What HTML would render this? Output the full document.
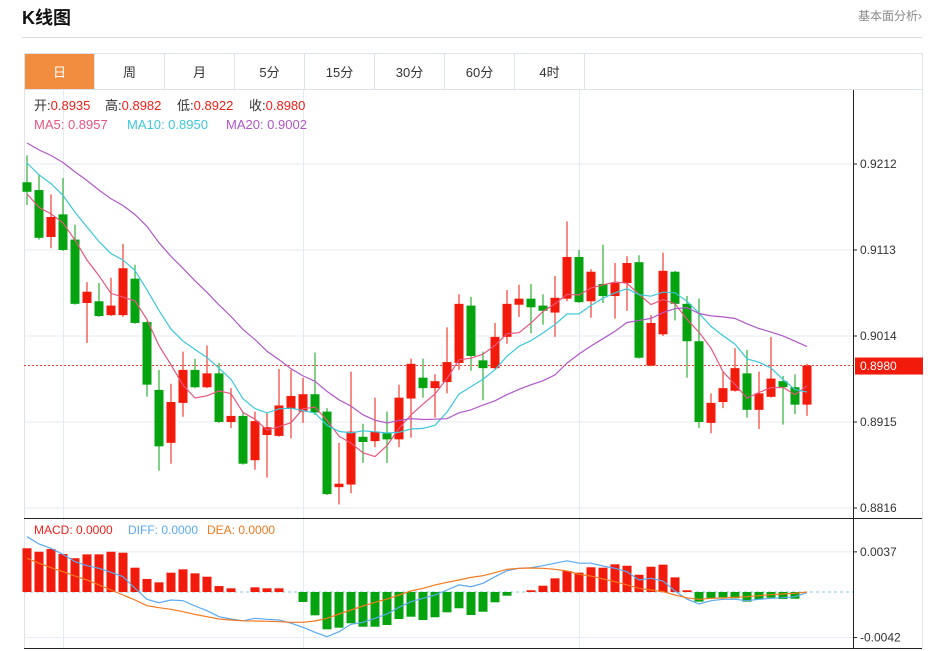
<!DOCTYPE html>
<html><head><meta charset="utf-8"><style>
body{margin:0;background:#fff;font-family:"Liberation Sans","Noto Sans CJK SC",sans-serif;}
#wrap{position:relative;width:937px;height:651px;overflow:hidden;}
svg text{font-family:"Liberation Sans","Noto Sans CJK SC",sans-serif;}
</style></head><body>
<div id="wrap">
<svg id="chart" width="937" height="651" xmlns="http://www.w3.org/2000/svg">
<text x="22" y="24" font-size="18" font-weight="bold" fill="#111">K线图</text>
<text x="922" y="20" font-size="12" fill="#888" text-anchor="end">基本面分析›</text>
<line x1="22" y1="37.5" x2="922" y2="37.5" stroke="#ddd"/>
<rect x="24.5" y="53.5" width="898" height="595" fill="none" stroke="#dde3ea"/>
<line x1="24" y1="89.5" x2="922" y2="89.5" stroke="#dde3ea"/>
<g id="tabs"></g>
<g id="grid"></g>
<g id="candles"></g>
<g id="mas"></g>
<g id="macd"></g>
<g id="axes"></g>
<g id="legend" font-size="13">
<text x="34" y="110"><tspan fill="#333">开:</tspan><tspan fill="#f0201a">0.8935</tspan></text>
<text x="105" y="110"><tspan fill="#333">高:</tspan><tspan fill="#f0201a">0.8982</tspan></text>
<text x="177" y="110"><tspan fill="#333">低:</tspan><tspan fill="#f0201a">0.8922</tspan></text>
<text x="249" y="110"><tspan fill="#333">收:</tspan><tspan fill="#f0201a">0.8980</tspan></text>
<text x="34" y="129" fill="#e8557f">MA5: 0.8957</text>
<text x="127" y="129" fill="#3cc8dc">MA10: 0.8950</text>
<text x="226" y="129" fill="#b158c8">MA20: 0.9002</text>
<text x="34" y="534" font-size="12" fill="#f0201a">MACD: 0.0000</text>
<text x="128" y="534" font-size="12" fill="#5aa9f0">DIFF: 0.0000</text>
<text x="207" y="534" font-size="12" fill="#f5781e">DEA: 0.0000</text>
</g>
</svg>
</div>
<script>
const tabLabels=["日","周","月","5分","15分","30分","60分","4时"];
const opens=[.9191,.9182,.9128,.9154,.9125,.9052,.9054,.9038,.9038,.9080,.9030,.8952,.8891,.8937,.8975,.8955,.8971,.8915,.8922,.8871,.8900,.8899,.8930,.8927,.8947,.8927,.8840,.8843,.8898,.8893,.8902,.8895,.8942,.8966,.8954,.8961,.8983,.9049,.8986,.8977,.9013,.9050,.9057,.9049,.9041,.9057,.9105,.9054,.9074,.9060,.9075,.9099,.8980,.9016,.9088,.9051,.9008,.8914,.8938,.8951,.8971,.8929,.8944,.8962,.8955,.8935];
const highs=[.9222,.9200,.9177,.9196,.9142,.9076,.9075,.9081,.9120,.9096,.9031,.8975,.8959,.8996,.8988,.9003,.8983,.8954,.8927,.8927,.8926,.8976,.8975,.8966,.8995,.8931,.8891,.8973,.8913,.8943,.8927,.8958,.8988,.8988,.8970,.9024,.9062,.9059,.8996,.9029,.9067,.9073,.9074,.9062,.9083,.9146,.9113,.9091,.9119,.9098,.9106,.9107,.9038,.9110,.9089,.9060,.9057,.8948,.8974,.9000,.8998,.8973,.9013,.8968,.8970,.8982];
const lows=[.9165,.9125,.9115,.9112,.9050,.9006,.9036,.9037,.9036,.9028,.8944,.8859,.8867,.8921,.8954,.8954,.8914,.8908,.8866,.8860,.8851,.8898,.8896,.8914,.8923,.8831,.8820,.8833,.8868,.8886,.8868,.8886,.8897,.8943,.8920,.8948,.8975,.8974,.8940,.8976,.9005,.9036,.9017,.9027,.9013,.9054,.9052,.9035,.9052,.9034,.9043,.8988,.8979,.9014,.9032,.8966,.8908,.8902,.8931,.8950,.8920,.8907,.8943,.8912,.8924,.8922];
const closes=[.9180,.9127,.9151,.9113,.9051,.9065,.9037,.9049,.9092,.9029,.8958,.8887,.8938,.8975,.8955,.8971,.8915,.8922,.8867,.8916,.8909,.8934,.8945,.8947,.8926,.8832,.8844,.8904,.8892,.8904,.8895,.8943,.8982,.8954,.8962,.8984,.9051,.8991,.8977,.9013,.9051,.9057,.9047,.9043,.9058,.9105,.9053,.9088,.9060,.9075,.9098,.8989,.9029,.9089,.9051,.9008,.8915,.8937,.8954,.8977,.8929,.8948,.8965,.8955,.8935,.8980];
const priorCloses=[.9286,.9280,.9274,.9268,.9263,.9257,.9251,.9245,.9240,.9228,.9263,.9253,.9249,.9244,.9235,.9205,.9188,.9165,.9150];
const priceTicks=[0.9212,0.9113,0.9014,0.8915,0.8816];
const lastPrice=0.8980;
const macdBars=[4.03,3.71,3.96,3.50,3.11,3.47,3.47,3.71,3.62,2.24,1.20,0.89,1.78,2.09,1.72,1.41,0.55,0.34,0.0,0.43,0.34,0.34,0.0,-0.92,-2.15,-3.44,-3.29,-2.88,-3.20,-3.20,-3.04,-2.49,-2.28,-2.58,-2.33,-1.87,-1.50,-2.12,-1.82,-0.95,-0.34,0.0,0.16,0.58,1.26,1.94,1.78,2.28,2.24,2.55,2.42,1.59,2.33,2.52,1.35,0.16,-0.89,-0.58,-0.49,-0.58,-0.89,-0.67,-0.53,-0.65,-0.62,0.0];
const diffVals=[5.10,4.42,4.03,3.47,2.79,2.42,2.18,1.82,1.41,0.34,-0.67,-0.99,-0.74,-0.80,-1.29,-1.72,-2.28,-2.49,-2.65,-2.42,-2.52,-2.58,-2.88,-3.25,-3.71,-4.12,-3.66,-2.98,-2.79,-2.42,-2.03,-1.41,-0.89,-0.58,-0.28,0.18,0.65,0.49,0.80,1.41,1.96,2.18,2.24,2.42,2.65,2.88,2.65,2.65,2.40,2.18,1.87,1.11,1.26,1.01,0.09,-0.65,-1.11,-0.80,-0.67,-0.67,-0.80,-0.67,-0.58,-0.53,-0.43,-0.06];
const deaVals=[3.11,2.65,2.24,1.87,1.47,1.11,0.65,0.18,-0.28,-0.74,-1.26,-1.45,-1.59,-1.82,-2.06,-2.28,-2.49,-2.58,-2.65,-2.67,-2.70,-2.74,-2.79,-2.79,-2.67,-2.42,-2.03,-1.66,-1.29,-0.95,-0.65,-0.28,0.09,0.34,0.65,0.89,1.11,1.35,1.50,1.78,2.09,2.18,2.21,2.18,2.09,1.94,1.63,1.47,1.20,0.95,0.65,0.34,0.18,0.03,-0.28,-0.53,-0.67,-0.58,-0.55,-0.49,-0.43,-0.34,-0.25,-0.18,-0.12,0.0];
const macdTicks=[0.0037,-0.0042];

const NS="http://www.w3.org/2000/svg";
function mk(tag,attrs,parent){const e=document.createElementNS(NS,tag);for(const k in attrs)e.setAttribute(k,attrs[k]);parent.appendChild(e);return e;}
const X=i=>27+i*12;
const Y=p=>164+(0.9212-p)*8687;
const MYs=v=>592-v*10.85; // v in 1e-3 units
const RED="#f21a0a",GREEN="#05a30f";

const tabs=document.getElementById('tabs');
tabLabels.forEach((t,i)=>{
  const g=mk('g',{},tabs);
  
  
  mk('rect',{x:24.5+i*70,y:53.5,width:70,height:36,fill:i===0?"#f28c3f":"#fff",stroke:"#dde3ea"},g);
  const tx=mk('text',{x:59.5+i*70,y:77,'font-size':13,'text-anchor':'middle',fill:i===0?"#fff":"#333"},g);
  tx.textContent=t;
});
mk('line',{x1:584.5,y1:53.5,x2:584.5,y2:89.5,stroke:"#dde3ea"},tabs);

const grid=document.getElementById('grid');
priceTicks.forEach(p=>{
  const l=mk('line',{x1:24,x2:853,y1:Y(p),y2:Y(p),stroke:"#e4ecf3"},grid);
  
  
});
macdTicks.forEach(v=>{
  const l=mk('line',{x1:24,x2:853,y1:MYs(v*1e3),y2:MYs(v*1e3),stroke:"#e4ecf3"},grid);
  
  
});
[63,303,579].forEach(x=>{
  const l=mk('line',{x1:x+0.5,x2:x+0.5,y1:90,y2:648,stroke:"#e4ecf3"},grid);
  
  
});
const lp=mk('line',{x1:24,x2:853,y1:Y(lastPrice),y2:Y(lastPrice),stroke:"#f04030",'stroke-dasharray':'2,2'},grid);



const cg=document.getElementById('candles');
closes.forEach((c,i)=>{
  const o=opens[i],col=c>=o?RED:GREEN,x=X(i);
  const g=mk('g',{},cg);
  
  
  mk('line',{x1:x,x2:x,y1:Y(highs[i]),y2:Y(lows[i]),stroke:col,'stroke-width':1},g);
  const t=Math.min(Y(o),Y(c)),h=Math.max(1,Math.abs(Y(o)-Y(c)));
  mk('rect',{x:x-4.5,y:t,width:9,height:h,fill:col},g);
});

const allC=priorCloses.concat(closes);
function ma(n){return closes.map((_,i)=>{const j=i+priorCloses.length;let s=0;for(let k=j-n+1;k<=j;k++)s+=allC[k];return s/n;});}
const mg=document.getElementById('mas');
[[5,"#e8557f","ma5-line"],[10,"#3cc8dc","ma10-line"],[20,"#b158c8","ma20-line"]].forEach(([n,col,name])=>{
  const v=ma(n);
  const p=mk('polyline',{points:v.map((m,i)=>X(i)+','+Y(m).toFixed(1)).join(' '),fill:'none',stroke:col,'stroke-width':1.2},mg);
  
  
});

const mc=document.getElementById('macd');
const zl=mk('line',{x1:24,x2:853,y1:592,y2:592,stroke:"#7cc8ee",'stroke-dasharray':'3,3'},mc);


macdBars.forEach((v,i)=>{
  if(v===0)return;
  const y0=MYs(0),y1=MYs(v);
  const r=mk('rect',{x:X(i)-4.5,y:Math.min(y0,y1),width:9,height:Math.abs(y1-y0),fill:v>0?RED:GREEN},mc);
  
  
});
[[diffVals,"#5aa9f0","diff-line"],[deaVals,"#f5781e","dea-line"]].forEach(([arr,col,name])=>{
  const p=mk('polyline',{points:arr.map((v,i)=>X(i)+','+MYs(v).toFixed(1)).join(' '),fill:'none',stroke:col,'stroke-width':1.2},mc);
  
  
});

const ax=document.getElementById('axes');
mk('line',{x1:853.5,x2:853.5,y1:90,y2:648,stroke:"#222"},ax);
mk('line',{x1:24,x2:922,y1:518.5,y2:518.5,stroke:"#222"},ax);
mk('line',{x1:24,x2:922,y1:648.5,y2:648.5,stroke:"#222"},ax);
priceTicks.forEach(p=>{
  mk('line',{x1:853,x2:857,y1:Y(p),y2:Y(p),stroke:"#222"},ax);
  const t=mk('text',{x:860,y:Y(p)+4,'font-size':12,fill:'#333'},ax);
  t.textContent=p.toFixed(4);
  
  
});
macdTicks.forEach(v=>{
  const y=MYs(v*1e3);
  mk('line',{x1:853,x2:857,y1:y,y2:y,stroke:"#222"},ax);
  const t=mk('text',{x:860,y:y+4,'font-size':12,fill:'#333'},ax);
  t.textContent=(v<0?'-':'')+Math.abs(v).toFixed(4);
  
  
});
const tag=mk('rect',{x:855,y:Y(lastPrice)-8,width:68,height:17,fill:"#f21a0a"},ax);


const tt=mk('text',{x:860,y:Y(lastPrice)+4.5,'font-size':12,fill:'#fff'},ax);
tt.textContent=lastPrice.toFixed(4);


</script>
</body></html>
